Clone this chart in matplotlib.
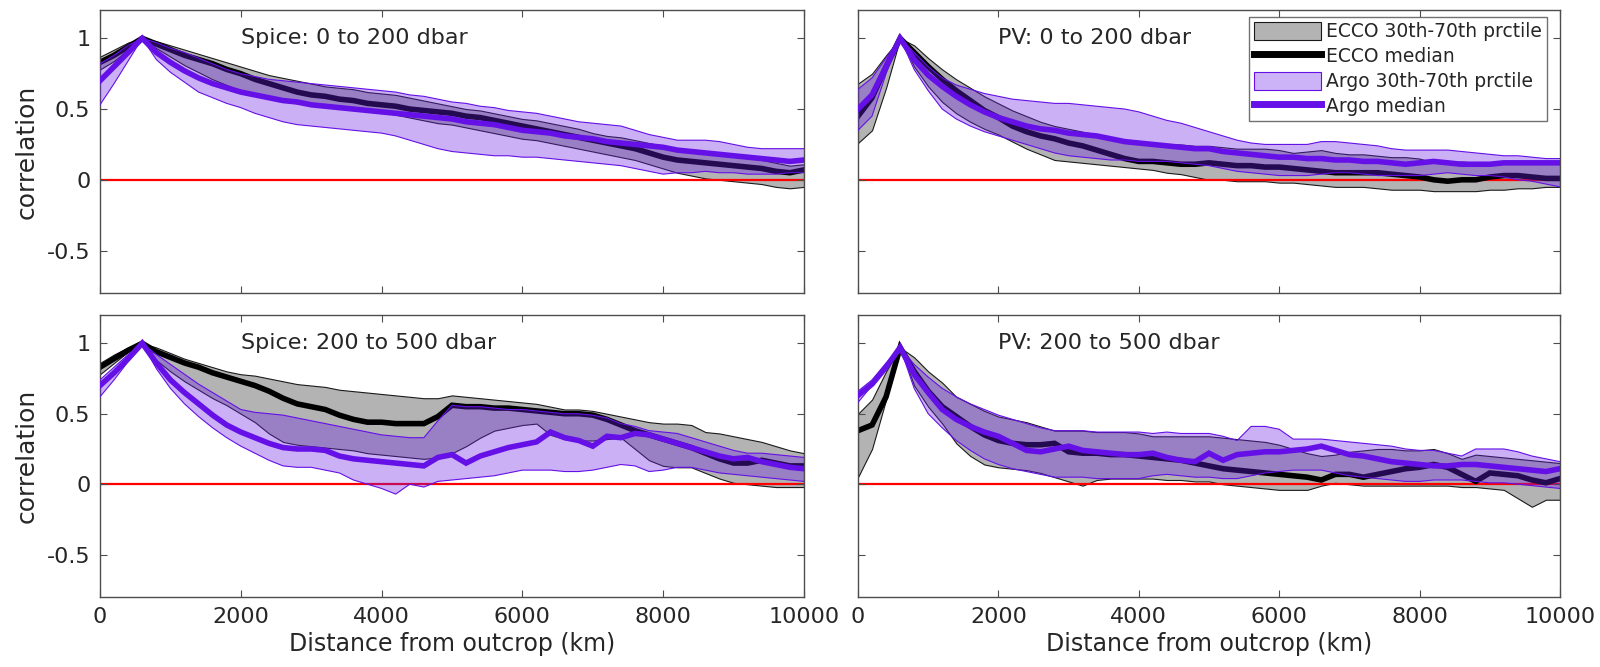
import numpy as np
import matplotlib
matplotlib.use("Agg")
import matplotlib.pyplot as plt
from matplotlib.patches import Patch
from matplotlib.lines import Line2D

plt.rcParams['font.family'] = ['DejaVu Sans']
plt.rcParams['axes.unicode_minus'] = False

# distance from outcrop (km), sampled every 200 km
dist_km = np.arange(0, 10001, 200)

# ---- Spice: 0 to 200 dbar ----
spice_top_ecco_med = [.83, .88, .94, 1.0, .96, .92, .88, .85, .82, .78, .75, .71, .68, .65, .62, .60, .59, .57, .56, .54,
                      .53, .52, .50, .49, .48, .47, .45, .44, .42, .40, .38, .36, .34, .32, .30, .28, .26, .24, .22, .19,
                      .16, .14, .13, .12, .11, .10, .09, .08, .06, .05, .07]
spice_top_ecco_hi = [.87, .92, .97, 1.0, .98, .95, .92, .89, .86, .83, .80, .77, .74, .72, .70, .68, .66, .65, .64, .62,
                     .61, .60, .58, .56, .54, .52, .50, .49, .47, .45, .43, .42, .40, .38, .36, .33, .31, .30, .28, .26,
                     .24, .22, .21, .20, .19, .18, .16, .14, .12, .10, .11]
spice_top_ecco_lo = [.78, .84, .92, 1.0, .93, .87, .81, .76, .71, .67, .63, .60, .58, .56, .54, .53, .52, .51, .50, .49,
                     .48, .46, .44, .42, .40, .39, .37, .35, .33, .31, .29, .28, .26, .24, .22, .20, .18, .16, .14, .11,
                     .08, .05, .03, .01, .00, -.01, -.02, -.03, -.05, -.06, -.05]
spice_top_argo_med = [.70, .80, .90, 1.0, .90, .83, .77, .72, .68, .65, .62, .60, .58, .56, .55, .53, .52, .51, .50, .49,
                      .48, .47, .46, .45, .44, .43, .41, .40, .39, .37, .35, .34, .33, .31, .30, .29, .27, .26, .25, .24,
                      .23, .21, .20, .19, .18, .17, .16, .15, .14, .13, .14]
spice_top_argo_hi = [.82, .88, .95, 1.0, .97, .93, .90, .86, .82, .78, .75, .73, .71, .70, .69, .68, .67, .66, .65, .64,
                     .63, .62, .60, .59, .57, .55, .54, .52, .51, .49, .48, .47, .45, .43, .41, .40, .39, .38, .35, .32,
                     .30, .28, .28, .28, .27, .25, .23, .22, .22, .22, .22]
spice_top_argo_lo = [.53, .68, .84, 1.0, .85, .76, .69, .62, .58, .54, .51, .47, .44, .41, .39, .38, .37, .36, .35, .34,
                     .33, .31, .28, .25, .22, .20, .19, .18, .17, .17, .16, .16, .15, .14, .13, .12, .11, .10, .08, .06,
                     .04, .05, .05, .06, .05, .05, .04, .04, .04, .05, .05]

# ---- PV: 0 to 200 dbar ----
pv_top_ecco_med = [.45, .58, .80, 1.0, .90, .80, .71, .63, .56, .49, .44, .38, .34, .31, .29, .26, .24, .21, .18, .15,
                   .13, .13, .12, .11, .11, .12, .11, .10, .10, .09, .09, .08, .07, .06, .05, .05, .05, .05, .04, .03,
                   .02, .00, -.01, .00, .00, .02, .03, .03, .02, .01, .01]
pv_top_ecco_hi = [.68, .75, .88, 1.0, .95, .86, .78, .71, .65, .59, .54, .49, .45, .41, .38, .36, .34, .32, .30, .28,
                  .27, .26, .25, .25, .24, .24, .23, .22, .22, .22, .21, .19, .20, .21, .19, .18, .18, .17, .16, .16,
                  .15, .12, .12, .13, .12, .12, .12, .12, .12, .12, .12]
pv_top_ecco_lo = [.26, .35, .65, 1.0, .80, .66, .55, .47, .41, .36, .32, .27, .22, .18, .14, .13, .12, .11, .10, .09,
                  .08, .07, .05, .04, .02, .00, .00, -.01, -.01, -.01, -.02, -.02, -.03, -.04, -.05, -.05, -.05, -.06, -.07, -.07,
                  -.07, -.08, -.08, -.08, -.08, -.07, -.07, -.06, -.06, -.05, -.05]
pv_top_argo_med = [.50, .60, .80, 1.0, .85, .74, .66, .59, .53, .48, .44, .41, .38, .36, .35, .33, .32, .31, .29, .27,
                   .26, .25, .24, .23, .22, .22, .20, .19, .18, .17, .16, .16, .15, .15, .14, .14, .13, .13, .12, .11,
                   .12, .13, .12, .11, .11, .11, .12, .12, .12, .12, .12]
pv_top_argo_hi = [.64, .72, .86, 1.0, .90, .80, .72, .67, .64, .61, .59, .57, .56, .55, .54, .54, .53, .52, .51, .50,
                  .48, .45, .42, .40, .37, .34, .31, .28, .26, .25, .25, .25, .25, .27, .27, .26, .25, .24, .22, .21,
                  .21, .21, .21, .20, .19, .18, .17, .17, .16, .15, .15]
pv_top_argo_lo = [.35, .45, .75, 1.0, .78, .63, .50, .43, .38, .34, .31, .28, .25, .22, .19, .17, .16, .15, .14, .14,
                  .13, .13, .13, .12, .11, .10, .08, .06, .05, .04, .03, .03, .03, .04, .05, .05, .04, .03, .03, .03,
                  .03, .04, .05, .04, .03, .03, .02, .00, -.01, -.03, -.05]

# ---- Spice: 200 to 500 dbar ----
spice_bot_ecco_med = [.83, .89, .95, 1.0, .94, .90, .86, .83, .79, .76, .73, .70, .66, .61, .57, .55, .53, .49, .46, .44,
                      .44, .43, .43, .43, .48, .56, .55, .55, .54, .54, .53, .52, .51, .50, .50, .49, .46, .42, .38, .35,
                      .32, .29, .26, .22, .18, .15, .15, .17, .15, .13, .13]
spice_bot_ecco_hi = [.86, .92, .97, 1.0, .97, .93, .89, .86, .83, .80, .78, .77, .75, .73, .71, .70, .69, .67, .66, .65,
                     .64, .63, .62, .61, .61, .63, .62, .61, .60, .59, .58, .57, .55, .53, .53, .52, .50, .48, .46, .44,
                     .43, .43, .42, .37, .36, .34, .32, .30, .27, .24, .22]
spice_bot_ecco_lo = [.78, .86, .94, 1.0, .88, .80, .73, .67, .61, .56, .50, .44, .36, .30, .28, .27, .26, .25, .24, .22,
                     .21, .20, .19, .18, .19, .22, .27, .33, .38, .40, .42, .43, .35, .32, .31, .31, .32, .33, .25, .17,
                     .13, .12, .12, .08, .04, .01, .00, -.01, -.02, -.02, -.02]
spice_bot_argo_med = [.70, .79, .89, 1.0, .86, .74, .65, .57, .49, .42, .37, .33, .29, .26, .25, .25, .24, .20, .18, .17,
                      .16, .15, .14, .13, .19, .21, .15, .20, .23, .26, .28, .30, .37, .33, .31, .27, .34, .33, .36, .35,
                      .32, .29, .26, .23, .20, .18, .19, .16, .14, .12, .11]
spice_bot_argo_hi = [.74, .83, .92, 1.0, .92, .85, .78, .71, .65, .59, .53, .51, .50, .49, .47, .45, .43, .41, .39, .37,
                     .35, .34, .33, .33, .45, .56, .55, .55, .54, .53, .53, .52, .51, .50, .50, .49, .47, .43, .41, .38,
                     .37, .36, .33, .30, .27, .24, .22, .22, .21, .20, .19]
spice_bot_argo_lo = [.62, .74, .87, 1.0, .82, .68, .57, .48, .40, .33, .27, .22, .17, .13, .12, .12, .10, .08, .03, .00,
                     -.03, -.07, .00, -.02, .02, .03, .04, .05, .06, .08, .10, .10, .10, .09, .09, .10, .12, .14, .13, .09,
                     .10, .12, .12, .10, .08, .07, .06, .05, .04, .03, .02]

# ---- PV: 200 to 500 dbar ----
pv_bot_ecco_med = [.38, .42, .62, .97, .80, .66, .55, .48, .41, .35, .31, .29, .28, .28, .29, .23, .22, .22, .21, .21,
                   .20, .19, .18, .17, .15, .13, .11, .10, .09, .08, .07, .06, .05, .03, .07, .07, .05, .07, .09, .11,
                   .12, .14, .12, .07, .02, .08, .07, .06, .03, .01, .04]
pv_bot_ecco_hi = [.50, .60, .80, .97, .90, .80, .72, .62, .57, .52, .48, .46, .44, .41, .38, .38, .38, .37, .37, .37,
                  .36, .34, .34, .34, .34, .34, .33, .32, .31, .30, .28, .25, .22, .20, .21, .23, .24, .25, .25, .24,
                  .24, .25, .22, .18, .21, .20, .19, .18, .17, .16, .15]
pv_bot_ecco_lo = [.05, .25, .60, .97, .70, .55, .43, .29, .20, .14, .12, .11, .10, .08, .05, .02, -.01, .03, .04, .04,
                  .04, .04, .03, .03, .02, .02, .00, -.01, -.02, -.03, -.04, -.04, -.04, -.01, .01, .00, -.01, -.01, -.01, -.01,
                  -.01, -.01, -.01, -.02, -.02, -.03, -.04, -.10, -.16, -.11, -.11]
pv_bot_argo_med = [.63, .71, .83, .97, .78, .65, .53, .46, .41, .37, .34, .29, .24, .23, .25, .27, .24, .23, .22, .21,
                   .21, .22, .19, .17, .16, .22, .17, .21, .22, .23, .23, .24, .25, .27, .24, .21, .20, .18, .16, .15,
                   .14, .13, .13, .14, .14, .13, .12, .11, .10, .09, .11]
pv_bot_argo_hi = [.66, .74, .86, .97, .85, .76, .68, .62, .57, .53, .49, .46, .43, .40, .38, .38, .38, .37, .37, .37,
                  .37, .36, .37, .36, .36, .36, .34, .31, .41, .41, .39, .32, .32, .32, .31, .30, .29, .28, .27, .25,
                  .24, .24, .22, .20, .25, .25, .25, .23, .20, .18, .16]
pv_bot_argo_lo = [.58, .70, .84, .97, .68, .50, .40, .31, .24, .18, .14, .11, .09, .07, .05, .05, .05, .04, .04, .04,
                  .04, .06, .07, .06, .05, .05, .04, .04, .06, .08, .09, .10, .10, .10, .08, .06, .05, .04, .03, .02,
                  .02, .03, .03, .03, .02, .01, .01, .00, -.01, -.02, -.03]

panel_titles = ['Spice: 0 to 200 dbar', 'PV: 0 to 200 dbar',
                'Spice: 200 to 500 dbar', 'PV: 200 to 500 dbar']
legend_labels = ['ECCO 30th-70th prctile', 'ECCO median',
                 'Argo 30th-70th prctile', 'Argo median']

ecco_fill = (0.70, 0.70, 0.70)
argo_col = '#6510e6'
argo_fill = '#6a1ee6'
axis_col = '#4d4d4d'
text_col = '#262626'

fig = plt.figure(figsize=(16, 6.67), dpi=100)
positions = [[0.0625, 0.5607, 0.44, 0.4243], [0.53625, 0.5607, 0.43875, 0.4243],
             [0.0625, 0.1049, 0.44, 0.4228], [0.53625, 0.1049, 0.43875, 0.4228]]

panels = [
    (spice_top_ecco_lo, spice_top_ecco_hi, spice_top_ecco_med, spice_top_argo_lo, spice_top_argo_hi, spice_top_argo_med),
    (pv_top_ecco_lo, pv_top_ecco_hi, pv_top_ecco_med, pv_top_argo_lo, pv_top_argo_hi, pv_top_argo_med),
    (spice_bot_ecco_lo, spice_bot_ecco_hi, spice_bot_ecco_med, spice_bot_argo_lo, spice_bot_argo_hi, spice_bot_argo_med),
    (pv_bot_ecco_lo, pv_bot_ecco_hi, pv_bot_ecco_med, pv_bot_argo_lo, pv_bot_argo_hi, pv_bot_argo_med),
]

axes = []
for i, (pos, data, title) in enumerate(zip(positions, panels, panel_titles)):
    ax = fig.add_axes(pos)
    axes.append(ax)
    e_lo, e_hi, e_med, a_lo, a_hi, a_med = data
    ax.fill_between(dist_km, e_lo, e_hi, facecolor=ecco_fill, edgecolor='#1a1a1a', lw=0.8, zorder=1)
    ax.axhline(0, color='red', lw=1.6, zorder=1.5)
    ax.plot(dist_km, e_med, color='black', lw=4, solid_joinstyle='miter', zorder=2)
    ax.fill_between(dist_km, a_lo, a_hi, facecolor=argo_fill, alpha=0.35, edgecolor='none', zorder=3)
    ax.plot(dist_km, a_lo, color=argo_col, lw=0.8, zorder=3.1)
    ax.plot(dist_km, a_hi, color=argo_col, lw=0.8, zorder=3.1)
    ax.plot(dist_km, a_med, color=argo_col, lw=4, solid_joinstyle='miter', zorder=4)

    ax.text(2000, 1.0, title, fontsize=16, color=text_col, ha='left', va='center', zorder=5)

    ax.set_xlim(0, 10000)
    ax.set_ylim(-0.8, 1.2)
    ax.set_xticks([0, 2000, 4000, 6000, 8000, 10000])
    ax.set_yticks([-0.5, 0, 0.5, 1])
    ax.set_yticklabels(['-0.5', '0', '0.5', '1'])
    ax.tick_params(direction='in', top=True, right=True, length=5, width=0.8,
                   color=axis_col, labelcolor=text_col, labelsize=16, pad=7)
    for sp in ax.spines.values():
        sp.set_color(axis_col)
        sp.set_linewidth(1.0)
    if i < 2:
        ax.tick_params(labelbottom=False)
    else:
        ax.set_xlabel('Distance from outcrop (km)', fontsize=17, color=text_col, labelpad=4)
    if i % 2 == 1:
        ax.tick_params(labelleft=False)
    else:
        ax.set_ylabel('correlation', fontsize=18, color=text_col, labelpad=6)

handles = [Patch(facecolor=ecco_fill, edgecolor='#1a1a1a', lw=0.8),
           Line2D([], [], color='black', lw=5),
           Patch(facecolor=(0.80, 0.70, 0.97), edgecolor=argo_col, lw=0.8),
           Line2D([], [], color=argo_col, lw=5)]
leg = axes[1].legend(handles, legend_labels, loc='upper right', bbox_to_anchor=(0.981, 0.975),
                     borderaxespad=0, fontsize=13.5, frameon=True, fancybox=False,
                     handlelength=3.6, handleheight=1.1, labelspacing=0.3,
                     handletextpad=0.25, borderpad=0.25)
leg.get_frame().set_edgecolor(axis_col)
leg.get_frame().set_linewidth(1.0)
for t in leg.get_texts():
    t.set_color(text_col)

fig.savefig('out.png', dpi=100)
